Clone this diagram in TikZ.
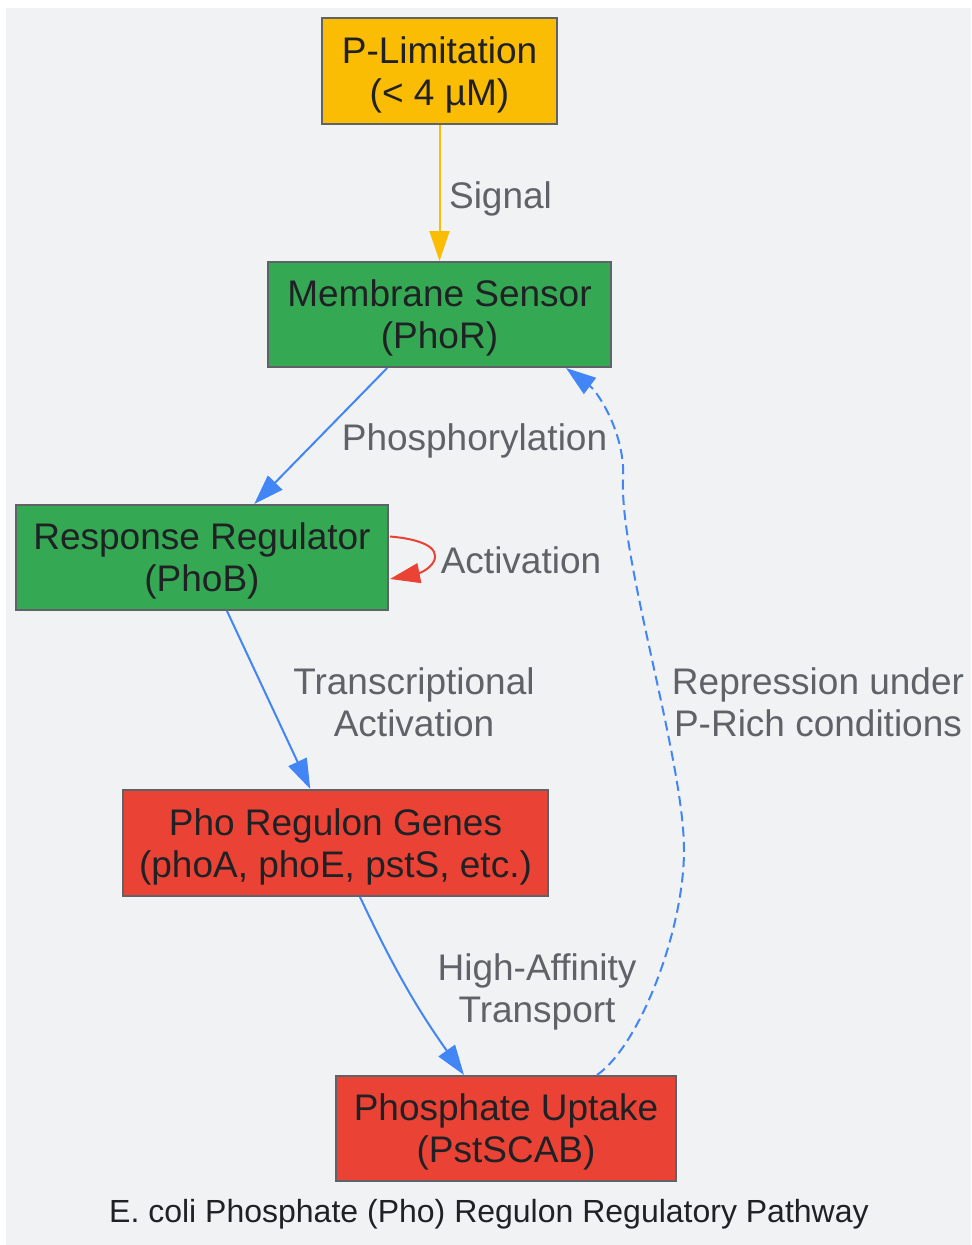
\documentclass[tikz,border=0pt]{standalone}
\usepackage{fontspec}
\setmainfont{Liberation Sans}
\usetikzlibrary{arrows.meta,calc}
\definecolor{bgpage}{HTML}{F1F2F4}
\definecolor{pyellow}{HTML}{FBBC04}
\definecolor{pgreen}{HTML}{34A853}
\definecolor{pred}{HTML}{EA4335}
\definecolor{pblue}{HTML}{4285F4}
\definecolor{edgegray}{HTML}{5F6368}
\definecolor{txtdark}{HTML}{202124}
\newcommand{\bt}{\fontsize{27.75}{31.5}\selectfont}
\newcommand{\ct}{\fontsize{24}{28}\selectfont}

\begin{document}
\begin{tikzpicture}[x=0.75pt,y=-0.75pt,
    box/.style={draw=edgegray,line width=1.5pt,align=center,text=txtdark,
                font=\bt,inner sep=0pt,text depth=-3.75pt},
    lbl/.style={text=edgegray,align=center,font=\bt,inner sep=0pt,text depth=0pt},
    link/.style={line width=1.5pt,-{Triangle[length=22.5pt,width=15pt]}}]
  \useasboundingbox (0,0) rectangle (971,1245);
  \fill[bgpage] (6,8) rectangle (971,1245);
  % boxes
  \node[box,fill=pyellow,minimum width=176.25pt,minimum height=79.5pt ] (plim)      at (439.5,  71  ) {P-Limitation\\(< 4 µM)};
  \node[box,fill=pgreen ,minimum width=257.25pt,minimum height=78.75pt] (sensor)    at (439.5, 314.5) {Membrane Sensor\\(PhoR)};
  \node[box,fill=pgreen ,minimum width=279pt   ,minimum height=78.75pt] (regulator) at (202  , 557.5) {Response Regulator\\(PhoB)};
  \node[box,fill=pred   ,minimum width=318.75pt,minimum height=79.5pt ] (genes)     at (335.5, 843  ) {Pho Regulon Genes\\(phoA, phoE, pstS, etc.)};
  \node[box,fill=pred   ,minimum width=255pt   ,minimum height=78.75pt] (uptake)    at (506  ,1128.5) {Phosphate Uptake\\(PstSCAB)};
  % edges
  \draw[link,pyellow] (plim)      -- (sensor);
  \draw[link,pblue  ] (sensor)    -- (regulator);
  \draw[link,pblue  ] (regulator) -- (genes);
  \draw[link,pblue  ] ($(genes.south)+(24.5,0)$) to[bend right=5] ($(uptake.north)+(-42,0)$);
  \draw[link,pred   ] ($(regulator.east)+(1,-21)$) .. controls (420,539) and (440,547) .. (434,561)
                      .. controls (430,569) and (420,573) .. ($(regulator.east)+(1,21.5)$);
  \draw[link,pblue,dash pattern=on 7.5pt off 4pt] ($(uptake.north)+(91,0)$)
        .. controls (640,1045) and (684,930) .. (684,850)
        .. controls (684,760) and (620,560) .. (623,480)
        .. controls (626,435) and (598,392) .. ($(sensor.south)+(126.5,0)$);
  % edge labels
  \node[lbl,anchor=base ] (lsig) at (500.5, 208) {Signal};
  \node[lbl,anchor=base ] (lpho) at (474.5, 450) {Phosphorylation};
  \node[lbl,anchor=base ] (lact) at (521  , 573) {Activation};
  \node[lbl,anchor=south] (ltra) at (414  , 737) {Transcriptional\\Activation};
  \node[lbl,anchor=south] (lrep) at (818  , 737) {Repression under\\P-Rich conditions};
  \node[lbl,anchor=south] (lhaf) at (537  ,1023) {High-Affinity\\Transport};
  % caption
  \node[font=\ct,text=txtdark,anchor=base,inner sep=0pt] (title) at (489,1222) {E. coli Phosphate (Pho) Regulon Regulatory Pathway};
\end{tikzpicture}
\end{document}
